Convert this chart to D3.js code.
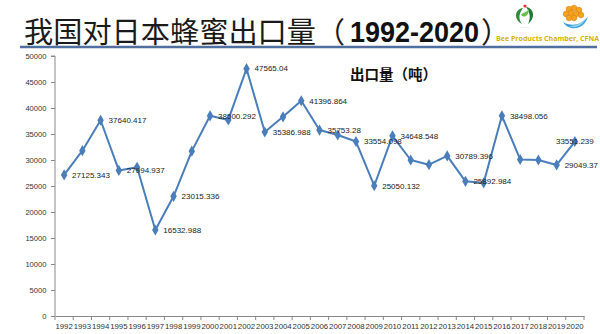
<!DOCTYPE html>
<html><head><meta charset="utf-8">
<script src="https://cdn.jsdelivr.net/npm/d3@7"></script>
<style>html,body{margin:0;padding:0;background:#fff;}svg{display:block;}</style>
</head><body>
<svg id="c" width="600" height="334"></svg>
<script>
const years = ["1992","1993","1994","1995","1996","1997","1998","1999","2000","2001","2002","2003","2004","2005","2006","2007","2008","2009","2010","2011","2012","2013","2014","2015","2016","2017","2018","2019","2020"];
const exportTons = [27125.343,31800,37640.417,27994.937,28600,16532.988,23015.336,31700,38500.292,37700,47565.04,35386.988,38300,41396.864,35753.28,34800,33554.098,25050.132,34648.548,30000,29100,30789.396,25892.984,25600,38498.056,30100,30000,29049.37,33551.239];
const labelledYears = ["1992","1994","1995","1997","1998","2000","2002","2003","2005","2006","2008","2009","2010","2013","2014","2016","2019","2020"];
const yTicks = [0,5000,10000,15000,20000,25000,30000,35000,40000,45000,50000];
const titleText = "我国对日本蜂蜜出口量";
const titleYears = "1992-2020";
const seriesName = "出口量（吨）";
const orgText = "Bee Products  Chamber, CFNA";

const svg = d3.select("#c");
const M = {l:55, r:584, t:56, b:316};
const x = d3.scaleBand().domain(years).range([M.l, M.r]).padding(0);
const y = d3.scaleLinear().domain([0,50000]).range([M.b, M.t]);
const blue = "#4a7ebb";
const font = "'Liberation Sans', Arial, sans-serif";

// title
svg.append("text").attr("x",24).attr("y",42.5).attr("font-family","'Noto Sans CJK SC'").attr("font-size",29)
  .attr("fill","#1a1a1a").attr("textLength",292).attr("lengthAdjust","spacingAndGlyphs").text(titleText);
svg.append("text").attr("x",316).attr("y",42.5).attr("font-family","'Noto Sans CJK SC'").attr("font-size",29)
  .attr("fill","#1a1a1a").text("（");
svg.append("text").attr("x",350).attr("y",42).attr("font-family",font).attr("font-weight","bold").attr("font-size",30)
  .attr("fill","#111").attr("textLength",129).attr("lengthAdjust","spacingAndGlyphs").text(titleYears);
svg.append("text").attr("x",481).attr("y",42.5).attr("font-family","'Noto Sans CJK SC'").attr("font-size",29)
  .attr("fill","#1a1a1a").text("）");
svg.append("line").attr("x1",20).attr("x2",597).attr("y1",47).attr("y2",47).attr("stroke","#4f6fa0").attr("stroke-width",2.5);
svg.append("text").attr("x",496).attr("y",41).attr("font-family","'Open Sans', sans-serif").attr("font-weight","bold")
  .attr("font-size",7).attr("fill","#d4b400").attr("textLength",103).attr("lengthAdjust","spacingAndGlyphs").text(orgText);

// logo 1 (green leaves)
const g1 = svg.append("g").attr("transform","translate(525,17)");
g1.append("path").attr("d","M-2,-9 C-10,-8 -12,2 -3,7 C-7,2 -6,-4 -2,-9 Z").attr("fill","#2e8b3e");
g1.append("path").attr("d","M1,-10 C9,-9 11,1 3,7 C6,1 5,-5 1,-10 Z").attr("fill","#1f7a35");
g1.append("path").attr("d","M-4,-2 C0,2 4,-2 4,-8 C1,-4 -2,-5 -4,-2 Z").attr("fill","#6cbf4a");
g1.append("circle").attr("cx",0).attr("cy",-11).attr("r",1.6).attr("fill","#d33");
g1.append("text").attr("x",0).attr("y",12).attr("text-anchor","middle").attr("font-size",3).attr("fill","#555").text("· · ·  · · ·");
// logo 2 (honeycomb + blue swoosh)
const g2 = svg.append("g").attr("transform","translate(575,18)");
g2.append("path").attr("d","M-12,4 C-6,14 10,12 13,-2 C8,7 -4,9 -12,4 Z").attr("fill","#3a9fd8");
g2.append("path").attr("d","M-6,8 C0,11 8,8 11,0 C6,6 0,8 -6,8 Z").attr("fill","#8fd0f0");
[[-6,-9],[-1,-10],[4,-8],[-9,-4],[-4,-5],[1,-4],[-6,0],[-1,0],[6,-3]].forEach(([cx,cy])=>{
  g2.append("circle").attr("cx",cx).attr("cy",cy).attr("r",2.8).attr("fill","#f2a51e").attr("stroke","#e07b10").attr("stroke-width",0.6);
});

// series name
svg.append("text").attr("x",350).attr("y",80).attr("font-family","'Noto Sans CJK SC'").attr("font-weight","bold")
  .attr("font-size",14.5).attr("fill","#111").text(seriesName);

// y axis
const yAxis = d3.axisLeft(y).tickValues(yTicks).tickSize(4).tickFormat(d3.format("d"));
const gy = svg.append("g").attr("transform",`translate(${M.l},0)`).call(yAxis);
gy.select(".domain").attr("stroke","#888").attr("d",`M-4,${M.t}H0V${M.b}`);
gy.selectAll(".tick line").attr("stroke","#888");
gy.selectAll(".tick text").attr("font-family",font).attr("font-size",7.6).attr("fill","#333").attr("x",-8.5).attr("dy","0.34em");

// x axis
const xAxis = d3.axisBottom(x).tickSize(0).tickSizeOuter(0);
const gx = svg.append("g").attr("transform",`translate(0,${M.b})`).call(xAxis);
gx.select(".domain").attr("stroke","#888");
gx.selectAll(".tick text").attr("font-family",font).attr("font-size",7.8).attr("fill","#333").attr("y",7).attr("dy","0.71em");
const bounds = years.map(d=>x(d)).concat([x(years[years.length-1])+x.bandwidth()]);
gx.selectAll("line.bt").data(bounds).enter().append("line").attr("class","bt")
  .attr("x1",d=>d).attr("x2",d=>d).attr("y1",0).attr("y2",4).attr("stroke","#888");

// line
const cx = d => x(d)+x.bandwidth()/2;
const pts = years.map((yr,i)=>({yr, v:exportTons[i]}));
svg.append("path").datum(pts).attr("fill","none").attr("stroke",blue).attr("stroke-width",2)
  .attr("stroke-linejoin","round")
  .attr("d", d3.line().x(d=>cx(d.yr)).y(d=>y(d.v)));
svg.selectAll("path.mk").data(pts).enter().append("path").attr("class","mk")
  .attr("d", d3.symbol().type(d3.symbolDiamond).size(36))
  .attr("transform", d=>`translate(${cx(d.yr)},${y(d.v)})`).attr("fill",blue);

// data labels
const lab = pts.filter(d=>labelledYears.includes(d.yr));
svg.selectAll("text.dl").data(lab).enter().append("text").attr("class","dl")
  .attr("x", d=> d.yr==="2020" ? cx(d.yr) : cx(d.yr)+8)
  .attr("y", d=> y(d.v)).attr("dy","0.35em")
  .attr("text-anchor", d=> d.yr==="2020" ? "middle" : "start")
  .attr("font-family",font).attr("font-size",8).attr("fill","#222")
  .text(d=>String(d.v));
</script>
</body></html>
